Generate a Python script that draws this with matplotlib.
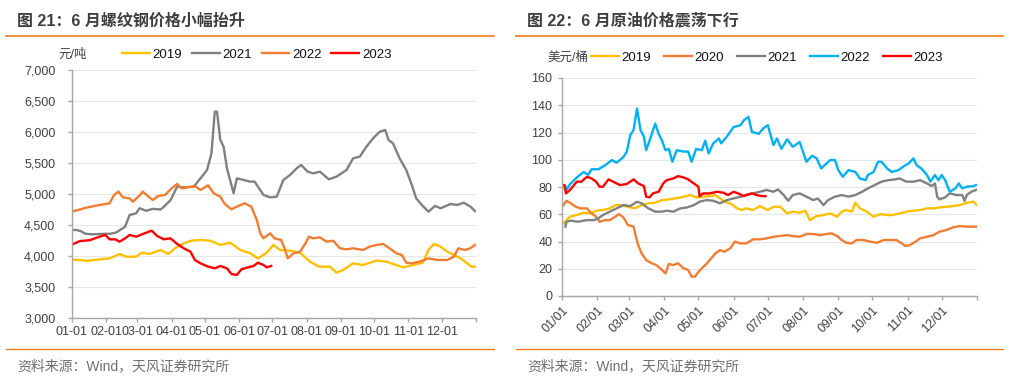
import numpy as np
import matplotlib
matplotlib.use("Agg")
import matplotlib.pyplot as plt

plt.rcParams['font.family'] = ['Liberation Sans', 'Noto Sans CJK SC']

# x positions are day of year, ticks at month starts
month_starts = [0, 31, 59, 90, 120, 151, 181, 212, 243, 273, 304, 334, 365]
rebar_month_labels = ['01-01', '02-01', '03-01', '04-01', '05-01', '06-01',
                      '07-01', '08-01', '09-01', '10-01', '11-01', '12-01', '']
oil_month_labels = ['01/01', '02/01', '03/01', '04/01', '05/01', '06/01',
                    '07/01', '08/01', '09/01', '10/01', '11/01', '12/01', '']

# ---- rebar price (元/吨) ----
rebar_2019_days = [0, 8, 13, 25, 34, 43, 49, 58, 63, 70, 80, 87, 93, 101, 108, 116, 125, 134, 143, 152,
                   161, 168, 176, 182, 188, 197, 206, 215, 223, 233, 239, 245, 254, 263, 275, 284, 293,
                   299, 308, 317, 322, 327, 333, 339, 345, 351, 357, 361, 365]
rebar_2019_vals = [3940, 3935, 3920, 3946, 3962, 4032, 3989, 3989, 4054, 4032, 4097, 4032, 4124, 4204, 4247,
                   4258, 4247, 4178, 4215, 4097, 4043, 3962, 4054, 4178, 4097, 4086, 4054, 3909, 3828, 3828,
                   3731, 3774, 3882, 3855, 3925, 3909, 3855, 3817, 3855, 3892, 4097, 4194, 4151, 4070, 4016,
                   3962, 3882, 3828, 3828]

rebar_2021_days = [0, 4, 8, 12, 18, 25, 35, 40, 48, 52, 58, 61, 67, 73, 80, 83, 89, 95, 101, 110, 116, 122,
                   126, 129, 131, 134, 137, 140, 146, 149, 155, 161, 165, 173, 179, 185, 191, 197, 203,
                   207, 213, 218, 224, 232, 239, 248, 254, 260, 266, 272, 278, 283, 286, 290, 296, 302,
                   307, 311, 316, 322, 328, 333, 342, 348, 354, 360, 364]
rebar_2021_vals = [4420, 4420, 4400, 4360, 4350, 4355, 4360, 4380, 4473, 4660, 4690, 4770, 4730, 4760, 4750,
                   4795, 4900, 5118, 5108, 5118, 5250, 5387, 5656, 6328, 6328, 5871, 5763, 5414, 5011,
                   5253, 5226, 5200, 5200, 4984, 4946, 4957, 5226, 5307, 5414, 5468, 5360, 5333, 5360,
                   5237, 5280, 5387, 5575, 5602, 5763, 5898, 6005, 6032, 5871, 5817, 5575, 5387, 5145,
                   4930, 4823, 4715, 4807, 4770, 4839, 4823, 4860, 4796, 4726]

rebar_2022_days = [0, 3, 13, 25, 34, 38, 42, 46, 52, 55, 60, 64, 69, 73, 78, 84, 90, 95, 99, 105, 111, 116,
                   123, 128, 134, 138, 144, 149, 156, 162, 167, 170, 173, 179, 183, 189, 192, 195, 200,
                   206, 211, 214, 218, 224, 230, 236, 242, 248, 254, 263, 269, 275, 281, 287, 293, 298,
                   302, 307, 314, 322, 330, 339, 345, 349, 355, 360, 364]
rebar_2022_vals = [4720, 4730, 4780, 4823, 4850, 4984, 5038, 4946, 4930, 4876, 4957, 5038, 4957, 4903, 4968,
                   4984, 5091, 5161, 5091, 5108, 5129, 5065, 5140, 5011, 4957, 4839, 4753, 4796, 4850,
                   4796, 4581, 4366, 4285, 4366, 4285, 4258, 4124, 3962, 4043, 4070, 4204, 4312, 4285,
                   4301, 4231, 4247, 4124, 4108, 4124, 4097, 4151, 4178, 4194, 4124, 4043, 4016, 3892,
                   3882, 3909, 3962, 3936, 3936, 3989, 4124, 4097, 4124, 4178]

rebar_2023_days = [0, 7, 16, 25, 30, 34, 39, 43, 48, 52, 58, 64, 72, 77, 83, 89, 95, 101, 107, 111, 116, 123,
                   129, 134, 140, 144, 149, 153, 159, 164, 168, 173, 176, 180]
rebar_2023_vals = [4185, 4240, 4255, 4312, 4339, 4269, 4269, 4231, 4285, 4339, 4312, 4355, 4409, 4323, 4269,
                   4285, 4194, 4124, 4070, 3936, 3882, 3828, 3801, 3839, 3801, 3710, 3694, 3785, 3817,
                   3839, 3892, 3855, 3817, 3839]

# ---- crude oil price (美元/桶) ----
oil_2019_days = [1, 7, 13, 19, 25, 30, 36, 42, 47, 52, 58, 64, 70, 76, 82, 88, 94, 99, 105, 113, 118, 124,
                 130, 135, 139, 143, 148, 154, 158, 162, 168, 174, 181, 186, 192, 198, 203, 209, 214, 218,
                 224, 230, 236, 242, 246, 250, 255, 258, 262, 268, 274, 280, 286, 291, 297, 303, 309, 315,
                 321, 327, 332, 338, 344, 350, 356, 362, 365]
oil_2019_vals = [53.3, 58.2, 59.4, 61.1, 60.6, 62.6, 63.1, 64.3, 66.7, 66.7, 65.5, 64.3, 66.7, 68.0, 68.5,
                 70.4, 70.9, 71.6, 72.4, 74.1, 72.4, 72.9, 73.3, 74.1, 71.6, 69.2, 68.0, 64.3, 63.1, 64.3,
                 63.1, 66.0, 63.1, 65.5, 65.5, 60.6, 61.9, 61.1, 62.6, 55.7, 58.7, 59.4, 60.6, 58.2, 61.9,
                 63.1, 61.9, 68.5, 64.3, 61.9, 58.2, 60.1, 59.4, 59.4, 60.6, 61.9, 62.6, 63.1, 64.3, 64.3,
                 65.0, 65.5, 66.0, 66.7, 68.5, 69.2, 66.7]

oil_2020_days = [0.6, 4, 7, 11, 16, 22, 26, 30, 33, 38, 42, 47, 50, 54, 58, 63, 65, 67, 70, 74, 79, 83, 88,
                 91, 94, 98, 102, 107, 111, 114, 117, 120, 123, 126, 130, 135, 139, 143, 148, 152, 157,
                 162, 168, 174, 180, 186, 192, 198, 203, 209, 215, 221, 227, 233, 237, 242, 246, 250, 255,
                 259, 265, 271, 277, 283, 289, 294, 299, 302, 306, 311, 315, 321, 327, 332, 338, 344, 350,
                 356, 365]
oil_2020_vals = [66.0, 69.9, 68.5, 66.0, 64.3, 64.3, 60.6, 58.2, 54.5, 55.7, 55.7, 58.2, 60.1, 57.7, 52.1,
                 50.9, 43.5, 37.4, 31.3, 26.4, 24.0, 22.7, 19.1, 16.6, 23.5, 22.7, 24.0, 20.3, 19.1, 14.2,
                 14.2, 17.8, 20.3, 22.7, 26.4, 31.3, 33.7, 32.5, 35.0, 39.9, 38.6, 38.6, 41.6, 41.6, 42.3,
                 43.5, 44.0, 44.7, 44.0, 43.5, 45.5, 45.5, 44.7, 45.5, 46.0, 44.0, 41.1, 39.1, 38.6, 41.1,
                 41.1, 39.9, 39.1, 41.1, 41.1, 41.1, 38.6, 36.7, 37.4, 39.9, 42.3, 43.5, 44.7, 47.2, 48.4,
                 50.4, 51.3, 50.9, 50.9]

oil_2021_days = [3, 4, 8, 14, 22, 28, 32, 36, 42, 48, 54, 60, 66, 70, 76, 82, 88, 92, 98, 104, 110, 116, 121,
                 127, 133, 139, 145, 151, 157, 162, 168, 174, 180, 186, 190, 195, 199, 203, 209, 215, 221,
                 225, 230, 234, 240, 246, 252, 258, 264, 269, 275, 281, 287, 293, 297, 303, 309, 315, 321,
                 325, 328, 330, 332, 337, 341, 347, 352, 354, 356, 360, 364]
oil_2021_vals = [50.9, 54.5, 55.3, 54.5, 55.7, 55.7, 57.0, 59.4, 61.9, 64.3, 66.7, 66.0, 69.2, 68.0, 64.3,
                 61.9, 61.9, 62.6, 61.9, 64.3, 65.0, 66.7, 69.2, 70.4, 69.9, 68.0, 70.4, 71.6, 72.9, 74.1,
                 75.3, 76.5, 77.8, 76.5, 78.2, 74.1, 69.9, 74.1, 75.3, 72.9, 70.4, 71.6, 66.7, 70.4, 72.9,
                 74.1, 72.9, 74.1, 76.5, 79.0, 81.4, 83.9, 85.0, 85.6, 86.3, 83.9, 83.9, 85.0, 82.6, 80.7,
                 82.6, 72.9, 70.9, 72.4, 75.3, 74.1, 74.1, 69.9, 74.1, 76.5, 77.8]

oil_2022_days = [3, 4, 7, 13, 19, 23, 26, 32, 38, 44, 48, 54, 57, 60, 63, 66, 69, 72, 74, 77, 82, 85, 88, 91,
                 94, 97, 101, 107, 111, 114, 118, 123, 126, 129, 133, 138, 140, 145, 151, 157, 160, 164,
                 167, 173, 177, 181, 186, 189, 193, 198, 203, 209, 215, 220, 224, 228, 231, 236, 240, 243,
                 247, 252, 258, 262, 267, 269, 274, 278, 281, 286, 290, 296, 300, 305, 309, 312, 316, 321,
                 324, 328, 331, 334, 337, 341, 346, 349, 352, 356, 362, 364]
oil_2022_vals = [80.7, 77.8, 82.0, 87.0, 91.0, 89.0, 93.0, 93.0, 96.0, 99.8, 97.8, 102.0, 106.0, 118.0,
                 122.0, 137.6, 122.0, 117.0, 107.0, 114.0, 126.6, 119.0, 114.0, 107.0, 108.0, 98.5, 107.0,
                 106.0, 106.0, 98.5, 108.0, 107.0, 114.0, 104.6, 112.0, 115.6, 112.0, 117.0, 124.0, 125.4,
                 129.0, 131.5, 120.5, 119.0, 123.0, 125.4, 110.8, 115.6, 108.0, 115.0, 109.5, 113.0, 98.5,
                 103.0, 101.0, 93.6, 96.0, 99.8, 99.8, 92.4, 87.5, 92.4, 91.0, 86.3, 85.0, 88.8, 91.0,
                 98.5, 98.5, 93.6, 91.0, 92.4, 94.9, 97.3, 101.0, 96.0, 93.6, 88.8, 83.9, 88.8, 85.0, 88.8,
                 85.0, 76.5, 79.0, 82.6, 79.0, 80.2, 80.7, 81.4]

oil_2023_days = [2, 3.5, 7, 13, 17, 22, 26, 30, 33, 36, 41, 45, 51, 57, 63, 67, 72, 74, 77, 80, 85, 89, 92,
                 98, 102, 107, 111, 116, 120, 121, 124, 130, 136, 142, 146, 151, 155, 160, 162, 167, 171,
                 176, 179]
oil_2023_vals = [81.4, 75.3, 77.8, 83.9, 83.9, 87.5, 86.3, 83.9, 80.2, 80.2, 85.6, 83.9, 81.4, 82.2, 85.6,
                 82.6, 80.7, 72.9, 72.4, 75.3, 76.5, 82.6, 85.0, 86.3, 88.0, 87.0, 85.6, 82.6, 80.2, 73.3,
                 75.3, 75.3, 76.5, 75.8, 74.1, 76.5, 75.3, 73.3, 74.1, 75.3, 74.1, 73.3, 73.3]

# colours
YELLOW = '#FFC000'
GRAY = '#808080'
ORANGE = '#F07D32'
BLUE = '#00B0F0'
RED = '#FF0000'
LINE_ORANGE = '#EE7F22'
TEXT = '#404040'

W, H = 1020, 380


def px_box(left, top, right, bottom):
    # pixel box -> figure fraction rect
    return [left / W, 1 - bottom / H, (right - left) / W, (bottom - top) / H]


def style_axes(ax, ymin, ymax, ystep, labels, rotate, yfmt, ypad):
    ax.set_xlim(0, 365)
    ax.set_ylim(ymin, ymax)
    ax.set_yticks(np.arange(ymin, ymax + ystep / 2, ystep))
    ax.yaxis.set_major_formatter(plt.FuncFormatter(yfmt))
    ax.set_xticks(month_starts)
    if rotate:
        ax.set_xticklabels(labels, rotation=45, ha='right', va='top', rotation_mode='anchor')
    else:
        ax.set_xticklabels(labels)
    for side in ['top', 'right']:
        ax.spines[side].set_visible(False)
    for side in ['left', 'bottom']:
        ax.spines[side].set_color('#A6A6A6')
        ax.spines[side].set_linewidth(1.0)
    ax.tick_params(axis='both', colors='#A6A6A6', labelcolor=TEXT, labelsize=9, length=3, width=1.0)
    ax.tick_params(axis='x', pad=3)
    ax.tick_params(axis='y', pad=ypad)
    ax.grid(axis='y', color='#E6E6E6', linewidth=0.8)
    ax.set_axisbelow(True)


def panel_frame(fig, x0, x1, title):
    # title, orange rules and source line
    fig.text((x0 + 11) / W, 1 - 21 / H, title, fontsize=11.5, fontweight='bold', color='#3F3F3F',
             va='center', ha='left')
    fig.add_artist(plt.Line2D([x0 / W, x1 / W], [1 - 36 / H, 1 - 36 / H], color=LINE_ORANGE, lw=1.2))
    fig.add_artist(plt.Line2D([x0 / W, x1 / W], [1 - 349 / H, 1 - 349 / H], color=LINE_ORANGE, lw=1.0))
    fig.text((x0 + 11) / W, 1 - 366 / H, '资料来源：Wind，天风证券研究所', fontsize=10, color='#6F6F6F',
             va='center', ha='left')


fig = plt.figure(figsize=(W / 100, H / 100), dpi=100)

# ---- left panel: rebar ----
ax1 = fig.add_axes(px_box(72, 70, 476, 318))
rebar_series = [
    ('2019', rebar_2019_days, rebar_2019_vals, YELLOW),
    ('2021', rebar_2021_days, rebar_2021_vals, GRAY),
    ('2022', rebar_2022_days, rebar_2022_vals, ORANGE),
    ('2023', rebar_2023_days, rebar_2023_vals, RED),
]
for name, d, v, c in rebar_series:
    ax1.plot(d, v, color=c, lw=1.7, label=name, solid_joinstyle='round')
style_axes(ax1, 3000, 7000, 500, rebar_month_labels, False, lambda v, p: f'{int(v):,}', 9)
panel_frame(fig, 6, 494, '图 21：6 月螺纹钢价格小幅抬升')
fig.text(58 / W, 1 - 55 / H, '元/吨', fontsize=9, color=TEXT, va='center', ha='left')
fig.legend(*ax1.get_legend_handles_labels(), loc='center left', bbox_to_anchor=(122 / W, 1 - 55 / H),
           ncol=4, frameon=False, fontsize=9.5, handlelength=2.1, handletextpad=0.2, columnspacing=0.75,
           borderpad=0, borderaxespad=0, labelcolor='#111111')

# ---- right panel: crude oil ----
ax2 = fig.add_axes(px_box(562, 78, 977, 296))
oil_series = [
    ('2019', oil_2019_days, oil_2019_vals, YELLOW),
    ('2020', oil_2020_days, oil_2020_vals, ORANGE),
    ('2021', oil_2021_days, oil_2021_vals, GRAY),
    ('2022', oil_2022_days, oil_2022_vals, BLUE),
    ('2023', oil_2023_days, oil_2023_vals, RED),
]
for name, d, v, c in oil_series:
    ax2.plot(d, v, color=c, lw=1.7, label=name, solid_joinstyle='round')
style_axes(ax2, 0, 160, 20, oil_month_labels, True, lambda v, p: f'{int(v)}', 4)
panel_frame(fig, 516, 1003, '图 22：6 月原油价格震荡下行')
fig.text(547 / W, 1 - 58 / H, '美元/桶', fontsize=9, color=TEXT, va='center', ha='left')
fig.legend(*ax2.get_legend_handles_labels(), loc='center left', bbox_to_anchor=(591 / W, 1 - 58 / H),
           ncol=5, frameon=False, fontsize=9.5, handlelength=2.1, handletextpad=0.2, columnspacing=1.0,
           borderpad=0, borderaxespad=0, labelcolor='#111111')

fig.savefig('out.png', dpi=100, facecolor='white')
